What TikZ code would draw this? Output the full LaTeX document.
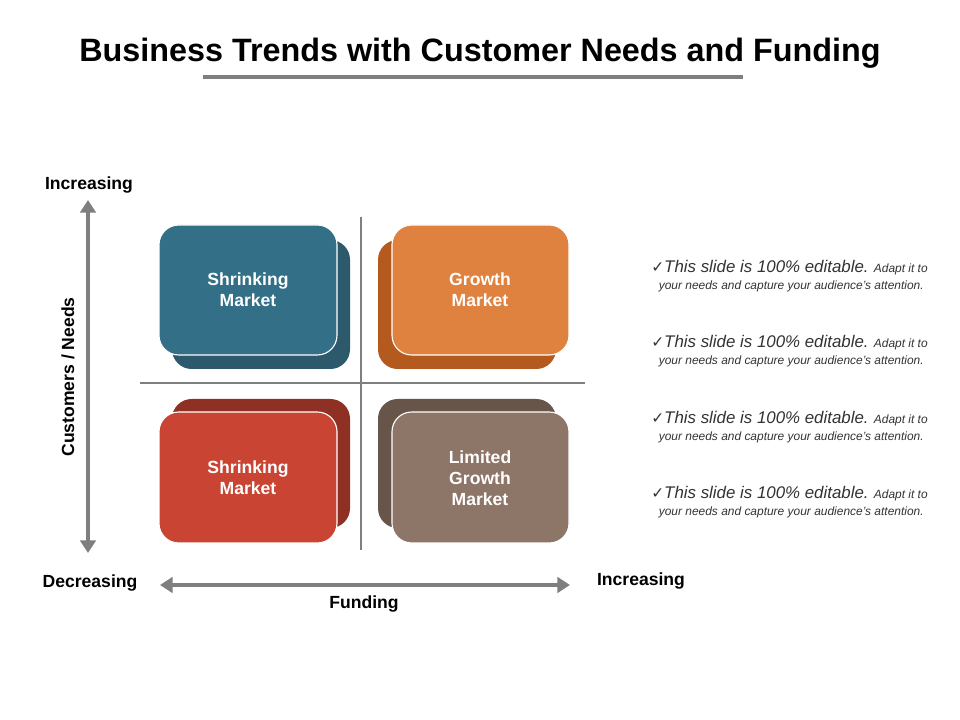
\documentclass[tikz,border=0pt]{standalone}
\usepackage{fontspec}
\setmainfont{Liberation Sans}
\newfontfamily\dejavu{DejaVu Sans}
\usetikzlibrary{arrows.meta}
\definecolor{tlF}{HTML}{336F87}\definecolor{tlB}{HTML}{2C5A6C}
\definecolor{trF}{HTML}{E0823F}\definecolor{trB}{HTML}{B55A1F}
\definecolor{blF}{HTML}{C94433}\definecolor{blB}{HTML}{8E3124}
\definecolor{brF}{HTML}{8D7567}\definecolor{brB}{HTML}{67554A}
\definecolor{ax}{HTML}{7F7F7F}
\tikzset{
 back/.style={rounded corners=14pt},
 front/.style={rounded corners=14pt,draw=white,line width=0.8pt},
 lab/.style={text=white,font=\bfseries\fontsize{12.5}{15}\selectfont,align=center},
 axl/.style={font=\bfseries\fontsize{12.5}{15}\selectfont,text=black},
 arr/.style={draw=ax,line width=3.5pt,{Triangle[length=9pt,width=11pt]}-{Triangle[length=9pt,width=11pt]}},
 bul/.style={anchor=east,align=right,text=black!80,font=\itshape,inner sep=0pt}
}
\begin{document}
\begin{tikzpicture}[x=0.025cm,y=-0.025cm]
\useasboundingbox[fill=white] (0,0) rectangle (960,720);
\node (title) at (480,53) {\bfseries\fontsize{23}{27}\selectfont Business Trends with Customer Needs and Funding};
\coordinate (u1) at (203,77); \coordinate (u2) at (743,77);
\draw[ax,line width=2.5pt] (u1) -- (u2);
% cross
\coordinate (v1) at (361,217); \coordinate (v2) at (361,550);
\coordinate (h1) at (140,383); \coordinate (h2) at (585,383);
\draw[ax,line width=1.2pt] (v1)--(v2); \draw[ax,line width=1.2pt] (h1)--(h2);
% boxes
\fill[tlB,back] (172,240) rectangle (350,369);
\fill[tlF,front] (159,225) rectangle (337,355);
\node[lab] (b1) at (248,290) {Shrinking\\Market};
\fill[trB,back] (378,240) rectangle (556,369);
\fill[trF,front] (392,225) rectangle (569,355);
\node[lab] (b2) at (480,290) {Growth\\Market};
\fill[blB,back] (172,399) rectangle (350,528);
\fill[blF,front] (159,412) rectangle (337,543);
\node[lab] (b3) at (248,478) {Shrinking\\Market};
\fill[brB,back] (378,399) rectangle (556,528);
\fill[brF,front] (392,412) rectangle (569,543);
\node[lab] (b4) at (480,478) {Limited\\Growth\\Market};
% axes
\coordinate (a1) at (88,200); \coordinate (a2) at (88,553);
\draw[arr] (a1)--(a2);
\coordinate (f1) at (160,585); \coordinate (f2) at (570,585);
\draw[arr] (f1)--(f2);
\node[axl] (inc1) at (89,185) {Increasing};
\node[axl] (dec) at (90,583) {Decreasing};
\node[axl,rotate=90] (cn) at (68,377) {Customers / Needs};
\node[axl] (fund) at (364,604) {Funding};
\node[axl] (inc2) at (641,581) {Increasing};
% bullets
\foreach \y/\n in {268/p1,343/p2,419/p3,494/p4}{
 \node[bul] (\n) at (928,\y) {{\dejavu\fontsize{11}{13}\selectfont ✓}{\fontsize{12}{14}\selectfont This slide is 100\% editable.} {\fontsize{8.5}{10}\selectfont Adapt it to}};
 \node[bul] (\n b) at (924,\y+18) {\fontsize{8.5}{10}\selectfont your needs and capture your audience’s attention.};
}
\end{tikzpicture}
\end{document}
